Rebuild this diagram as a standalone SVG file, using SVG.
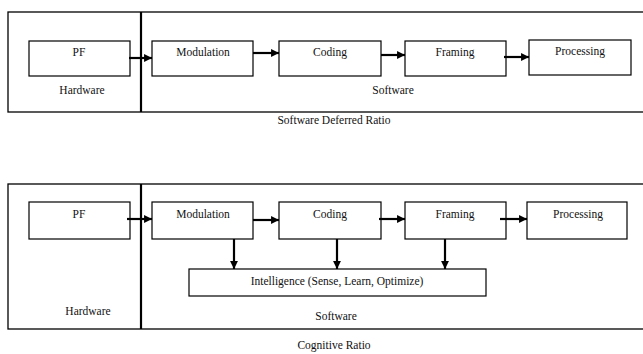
<svg xmlns="http://www.w3.org/2000/svg" width="643" height="354" viewBox="0 0 643 354">
<style>
.frame{fill:none;stroke:#000;stroke-width:1.3}
.div{stroke:#000;stroke-width:2.2}
.box{fill:#fff;stroke:#000;stroke-width:1.2}
.t{font-family:"Liberation Serif","Times New Roman",serif;font-size:11.5px;fill:#111;text-anchor:middle}
.c{stroke:#000;stroke-width:2.2;fill:none;marker-end:url(#ah)}
</style>
<defs>
<marker id="ah" viewBox="0 0 10 10" refX="10" refY="5" markerWidth="4" markerHeight="3.6" orient="auto" markerUnits="strokeWidth">
<path d="M0,0 L10,5 L0,10 Z" fill="#000"/>
</marker>
</defs>
<rect width="643" height="354" fill="#fff"/>

<g id="top-diagram">
<rect class="frame" x="8" y="12" width="640" height="100"/>
<line class="div" x1="141" y1="12" x2="141" y2="112"/>
<g id="t-pf"><rect class="box" x="29" y="41" width="101" height="35"/><text class="t" x="79" y="56">PF</text></g>
<g id="t-mod"><rect class="box" x="152" y="41" width="101" height="35"/><text class="t" x="203" y="56">Modulation</text></g>
<g id="t-cod"><rect class="box" x="279" y="41" width="102" height="35"/><text class="t" x="330" y="56">Coding</text></g>
<g id="t-fra"><rect class="box" x="405" y="41" width="101" height="35"/><text class="t" x="455" y="56">Framing</text></g>
<g id="t-pro"><rect class="box" x="529" y="40" width="102" height="35"/><text class="t" x="580" y="55">Processing</text></g>
<text class="t" x="82" y="94">Hardware</text>
<text class="t" x="393" y="94">Software</text>
<text class="t" x="334" y="124">Software Deferred Ratio</text>
<g id="t-connectors">
<line class="c" x1="129" y1="58" x2="152" y2="58"/>
<line class="c" x1="253" y1="53" x2="279" y2="53"/>
<line class="c" x1="381" y1="55" x2="405" y2="55"/>
<line class="c" x1="504" y1="57" x2="529" y2="57"/>
</g>
</g>

<g id="bottom-diagram">
<rect class="frame" x="8" y="184" width="640" height="145"/>
<line class="div" x1="141" y1="184" x2="141" y2="329"/>
<g id="b-pf"><rect class="box" x="29" y="202" width="101" height="37"/><text class="t" x="79" y="218">PF</text></g>
<g id="b-mod"><rect class="box" x="152" y="202" width="101" height="37"/><text class="t" x="203" y="218">Modulation</text></g>
<g id="b-cod"><rect class="box" x="279" y="202" width="102" height="37"/><text class="t" x="330" y="218">Coding</text></g>
<g id="b-fra"><rect class="box" x="405" y="202" width="101" height="37"/><text class="t" x="455" y="218">Framing</text></g>
<g id="b-pro"><rect class="box" x="527" y="202" width="100" height="37"/><text class="t" x="578" y="218">Processing</text></g>
<g id="b-int"><rect class="box" x="189" y="269" width="297" height="27"/><text class="t" x="337" y="285">Intelligence (Sense, Learn, Optimize)</text></g>
<text class="t" x="88" y="315">Hardware</text>
<text class="t" x="336" y="320">Software</text>
<text class="t" x="334" y="349">Cognitive Ratio</text>
<g id="b-connectors">
<line class="c" x1="127" y1="219" x2="152" y2="219"/>
<line class="c" x1="253" y1="220" x2="279" y2="220"/>
<line class="c" x1="379" y1="219" x2="405" y2="219"/>
<line class="c" x1="500" y1="219" x2="527" y2="219"/>
<line class="c" x1="234" y1="239" x2="234" y2="269"/>
<line class="c" x1="337" y1="239" x2="337" y2="269"/>
<line class="c" x1="445" y1="239" x2="445" y2="269"/>
</g>
</g>
</svg>
